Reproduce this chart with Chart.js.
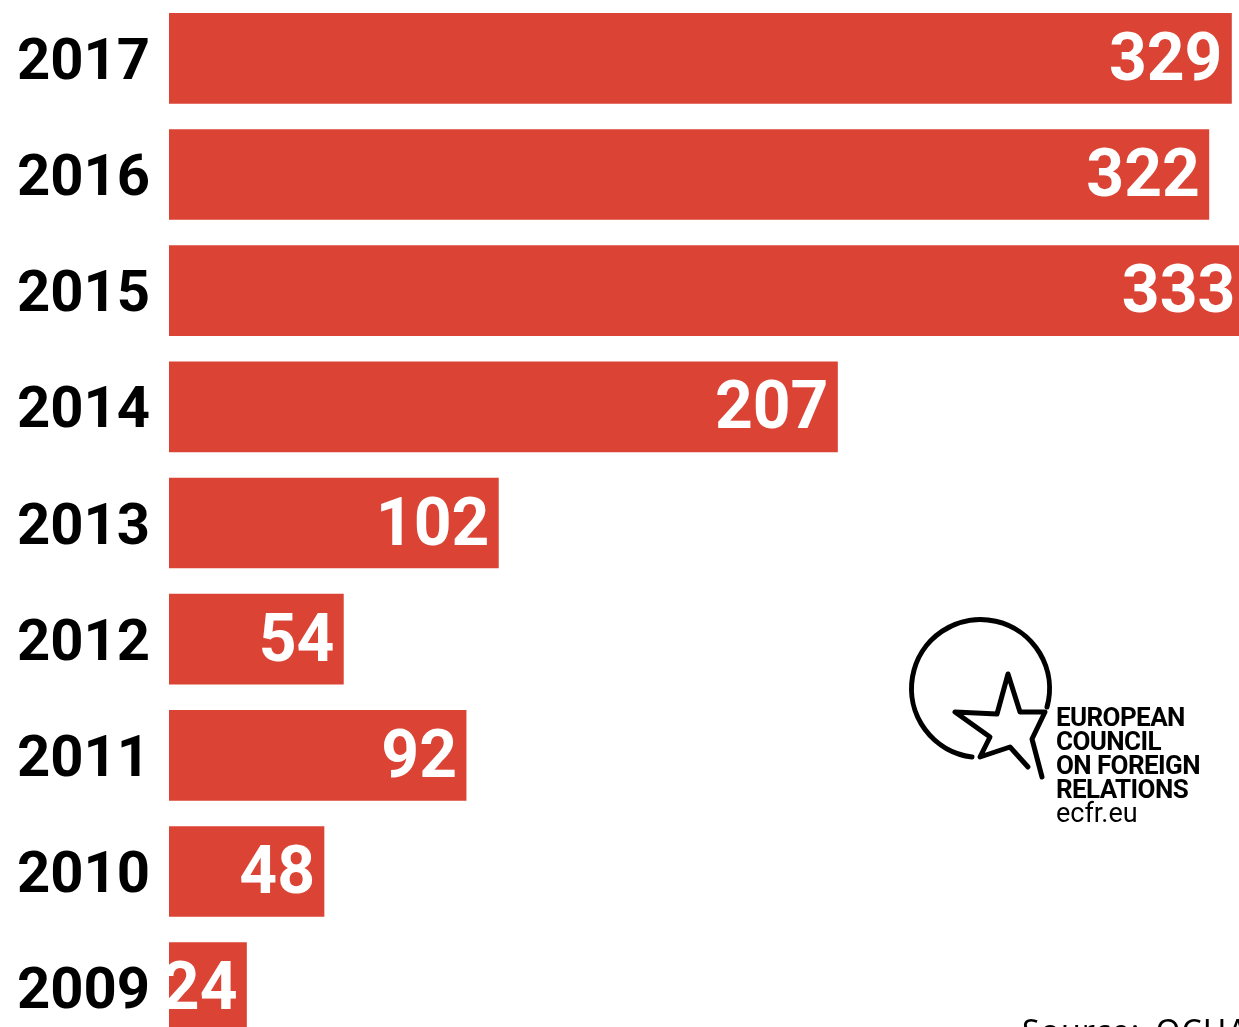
<!DOCTYPE html>
<html>
<head>
<meta charset="utf-8">
<script src="https://cdn.jsdelivr.net/npm/chart.js@4.4.0/dist/chart.umd.min.js"></script>
<style>
    html, body { margin: 0; padding: 0; background: #ffffff; overflow: hidden; width: 1239px; height: 1027px; }
    #wrap { position: absolute; left: 0; top: -19px; width: 1267px; height: 1084px; }
    #logo { position: absolute; left: 900px; top: 610px; }
    #logoText { position: absolute; left: 1056px; top: 705px; font-family: Roboto, sans-serif; font-weight: bold; font-size: 26px; line-height: 24px; letter-spacing: -0.6px; color: #000; }
    #logoText .url { font-weight: normal; letter-spacing: 0; font-size: 27px; }
    #source { position: absolute; left: 1022px; top: 1009px; font-family: "Noto Sans", sans-serif; font-size: 32px; letter-spacing: 1px; word-spacing: 6px; color: #000; white-space: nowrap; }
</style>
</head>
<body>
<div id="wrap"><canvas id="chartJsBar" width="1267" height="1084"></canvas></div>

<svg id="logo" width="160" height="180" viewBox="900 610 160 180">
    <path d="M972 757 A69 69 0 1 1 1047 707" fill="none" stroke="#000" stroke-width="5" stroke-linecap="round"/>
    <path d="M1028 767 L1010 747 L980 757 L990 737 L955 712 L997 714 L1008 674 L1020 712 L1045 712 L1032 739 L1042 777"
          fill="none" stroke="#000" stroke-width="5" stroke-linejoin="round" stroke-linecap="round"/>
</svg>
<div id="logoText">EUROPEAN<br>COUNCIL<br>ON FOREIGN<br>RELATIONS<br><span class="url">ecfr.eu</span></div>
<div id="source">Source: OCHA</div>

<script>
var years = ["2017", "2016", "2015", "2014", "2013", "2012", "2011", "2010", "2009"];
var values = [329, 322, 333, 207, 102, 54, 92, 48, 24];

// white numbers at the end of each bar
var valueLabels = {
    id: 'valueLabels',
    afterDatasetsDraw: function(chart) {
        var ctx = chart.ctx;
        var meta = chart.getDatasetMeta(0);
        ctx.save();
        ctx.fillStyle = '#ffffff';
        ctx.font = 'bold 66px Roboto, sans-serif';
        ctx.textAlign = 'right';
        ctx.textBaseline = 'middle';
        meta.data.forEach(function(bar, i) {
            ctx.fillText(String(values[i]), bar.x - 9, bar.y + 5);
        });
        ctx.restore();
    }
};

function drawChartJsBar() {
    var ctxChartJsBar = document.getElementById("chartJsBar");
    var chartJsBar = new Chart(ctxChartJsBar, {
        type: 'bar',
        data: {
            labels: years,
            datasets: [{
                data: values,
                backgroundColor: "#DB4335",
                barThickness: 90
            }]
        },
        options: {
            indexAxis: 'y',
            responsive: false,
            animation: false,
            layout: { padding: 0 },
            plugins: {
                legend: { display: false },
                tooltip: { enabled: false }
            },
            scales: {
                x: {
                    display: false,
                    min: 0,
                    max: 340
                },
                y: {
                    grid: { display: false, drawTicks: false },
                    border: { display: false },
                    afterFit: function(scale) { scale.width = 169; },
                    ticks: {
                        crossAlign: 'center',
                        padding: 19,
                        labelOffset: 6,
                        color: '#000000',
                        font: { family: 'Roboto, sans-serif', weight: 'bold', size: 58, lineHeight: 0.01 }
                    }
                }
            }
        },
        plugins: [valueLabels]
    });
}

drawChartJsBar();
</script>
</body>
</html>
